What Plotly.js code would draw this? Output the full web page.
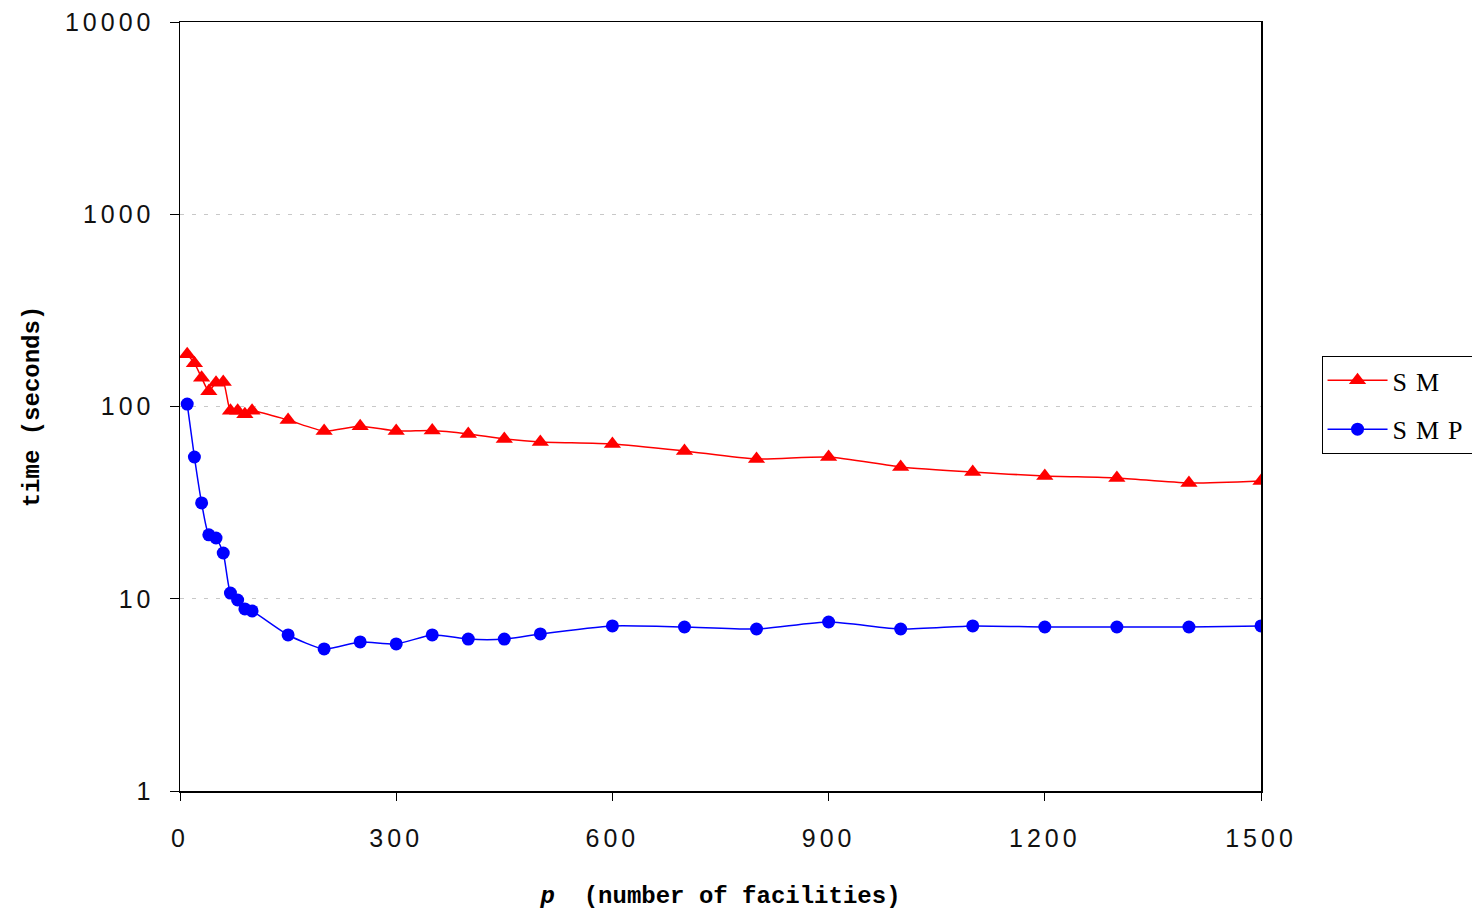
<!DOCTYPE html>
<html>
<head>
<meta charset="utf-8">
<script src="https://cdn.plot.ly/plotly-3.0.1.min.js"></script>
<style>
  html, body { margin: 0; padding: 0; background: #fff; }
  #chart { width: 1472px; height: 917px; }
  .xtick text, .ytick text { letter-spacing: 4px; }
  .legendtext { letter-spacing: 9px; }
</style>
</head>
<body>
<div id="chart"></div>
<script>
// number of facilities p
const facilities = [10, 20, 30, 40, 50, 60, 70, 80, 90, 100, 150, 200, 250, 300, 350, 400,
                    450, 500, 600, 700, 800, 900, 1000, 1100, 1200, 1300, 1400, 1500];
// running time (seconds) of SM
const timeSM = [187, 168, 141, 120, 133, 134, 95, 95, 91, 95, 85, 74.6, 79, 74.6, 75, 72,
                67.8, 65.4, 63.8, 58.7, 53.3, 54.6, 48.5, 45.6, 43.5, 42.5, 40, 41];
// running time (seconds) of SMP
const timeSMP = [103, 54.6, 31.5, 21.5, 20.7, 17.3, 10.7, 9.85, 8.85, 8.64, 6.48, 5.48, 5.96,
                 5.82, 6.48, 6.17, 6.17, 6.56, 7.22, 7.13, 6.96, 7.57, 6.96, 7.22, 7.13, 7.13,
                 7.13, 7.22];
const seriesNames = ['SM', 'SMP'];
const xTickVals = [0, 300, 600, 900, 1200, 1500];
const yTickVals = [1, 10, 100, 1000, 10000];

const tickFont = { family: 'Liberation Sans, Arial, sans-serif', size: 25, color: '#111' };
const titleFont = { family: 'Liberation Mono, Courier New, monospace', size: 24, color: '#000', weight: 'bold' };

const traces = [
  {
    x: facilities, y: timeSM, name: seriesNames[0], legendgroup: 'sm',
    type: 'scatter', mode: 'lines+markers',
    line: { color: '#ff0000', width: 1.5, shape: 'spline', smoothing: 0.6 },
    marker: { symbol: 'triangle-up', size: 15, color: '#ff0000' }
  },
  {
    x: facilities, y: timeSMP, name: seriesNames[1], legendgroup: 'smp',
    type: 'scatter', mode: 'lines+markers',
    line: { color: '#0000ff', width: 1.5, shape: 'spline', smoothing: 0.6 },
    marker: { symbol: 'circle', size: 13, color: '#0000ff' }
  }
];

const layout = {
  width: 1472, height: 917,
  margin: { l: 180, r: 211, t: 22, b: 126, autoexpand: false },
  paper_bgcolor: '#fff', plot_bgcolor: '#fff',
  showlegend: true,
  legend: {
    x: 1.056, xanchor: 'left', y: 0.502, yanchor: 'middle',
    bordercolor: '#000', borderwidth: 1, bgcolor: '#fff',
    font: { family: 'Liberation Serif, Times New Roman, serif', size: 26, color: '#000' },
    traceorder: 'grouped', tracegroupgap: 12, itemwidth: 60
  },
  xaxis: {
    range: [0, 1500], tickvals: xTickVals, ticktext: xTickVals.map(String),
    showgrid: false, zeroline: false,
    showline: true, linecolor: '#000', linewidth: 1.5, mirror: true,
    ticks: 'outside', ticklen: 8, tickcolor: '#000', tickwidth: 1,
    tickfont: tickFont, ticklabelstandoff: 16,
    title: {
      text: '<i>p</i>  (number of facilities)',
      font: titleFont, standoff: 35
    }
  },
  yaxis: {
    type: 'log', range: [0, 4], tickvals: yTickVals, ticktext: yTickVals.map(String),
    showgrid: true, gridcolor: '#c8c8c8', griddash: '4px,8px', gridwidth: 1,
    zeroline: false,
    showline: true, linecolor: '#000', linewidth: 1.5, mirror: true,
    ticks: 'outside', ticklen: 9, tickcolor: '#000', tickwidth: 1,
    tickfont: tickFont, ticklabelstandoff: 10,
    title: { text: 'time (seconds)', font: titleFont, standoff: 18 }
  }
};

Plotly.newPlot('chart', traces, layout, { displayModeBar: false, staticPlot: true });
</script>
</body>
</html>
